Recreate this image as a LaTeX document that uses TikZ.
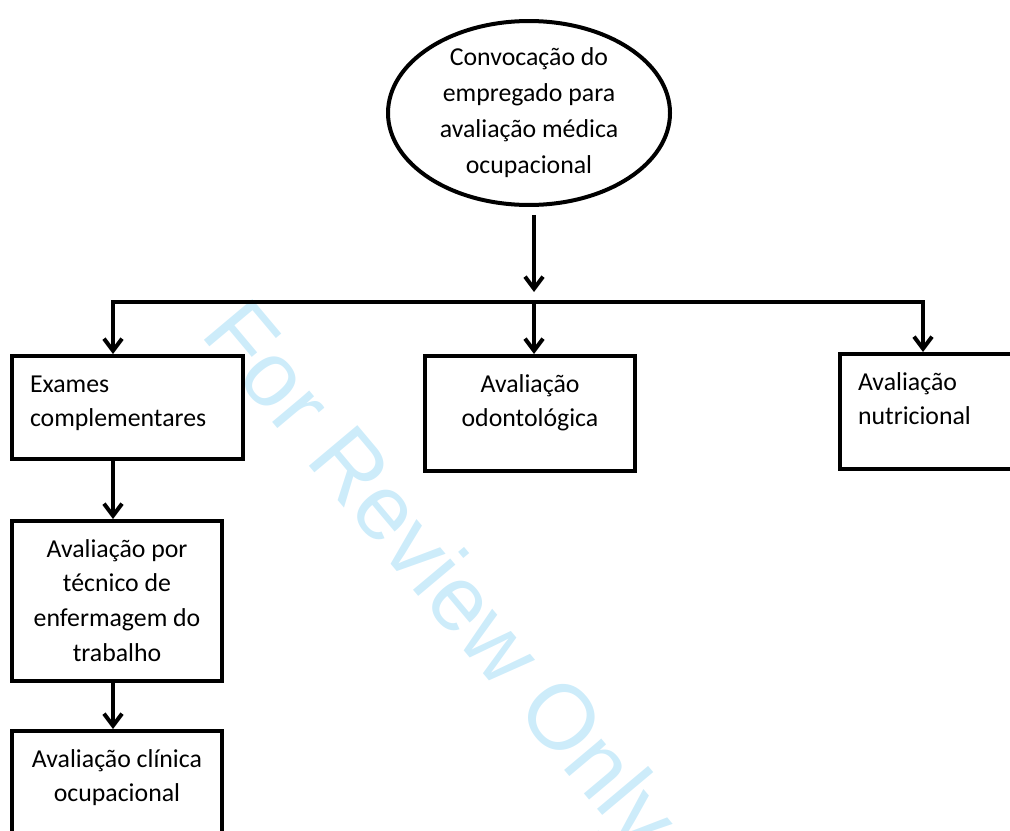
\documentclass[tikz,border=0pt]{standalone}
\usepackage{fontspec}
\setmainfont{Carlito}
\newfontfamily\wmfont{Liberation Sans}
\usetikzlibrary{arrows.meta,shapes.geometric}
\definecolor{wmblue}{RGB}{205,236,250}

\begin{document}
\begin{tikzpicture}[x=0.5pt,y=-0.5pt,line width=2pt,>={Straight Barb[length=6pt,width=9pt]},
  font=\fontsize{12.9pt}{18pt}\selectfont,
  etapa/.style={draw,rectangle,anchor=north west,inner xsep=9pt,inner ysep=0pt,text height=18pt,
    font=\fontsize{12.9pt}{17.4pt}\selectfont,align=flush left},
  etapac/.style={etapa,align=flush center}]
  \useasboundingbox (0,0) rectangle (1010,830);
  \clip (0,0) rectangle (1010,830);
  % marca d'agua
  \node[text=wmblue,font=\wmfont\fontsize{46pt}{46pt}\selectfont,rotate=-50] (marca) at (436,580) {For Review Only};
  \node[draw,ellipse,minimum width=141pt,minimum height=91.5pt,inner sep=0pt,align=center] (convoc) at (529,113)
    {Convocação do\\empregado para\\avaliação médica\\ocupacional};
  \node[etapa,text width=97.5pt,text depth=33.5pt] (exames) at (10,354) {Exames\\complementares};
  \node[etapac,text width=87pt,text depth=39.5pt] (odonto) at (423,354) {Avaliação\\odontológica};
  \node[etapa,text width=87pt,text depth=39.5pt] (nutri) at (838,352) {Avaliação\\nutricional};
  \node[etapac,text width=87pt,text depth=62pt] (tecnico) at (10,519) {Avaliação por\\técnico de\\enfermagem do\\trabalho};
  \node[etapac,text width=87pt,text depth=60pt] (clinica) at (10,729) {Avaliação clínica\\ocupacional};
  \coordinate (barM) at (534,302);
  \coordinate (barL) at (113,302);
  \coordinate (barR) at (923,302);
  \draw[->] ([yshift=-4pt]convoc.south -| barM) -- ([yshift=5pt]barM);
  \draw[->] (barM) -- (barL) -- (barL |- exames.north);
  \draw[->] (barM) -- (barM |- odonto.north);
  \draw[->] (barM) -- (barR) -- (barR |- nutri.north);
  \draw[->] (exames.south -| barL) -- (tecnico.north -| barL);
  \draw[->] (tecnico.south -| barL) -- (clinica.north -| barL);
\end{tikzpicture}
\end{document}
